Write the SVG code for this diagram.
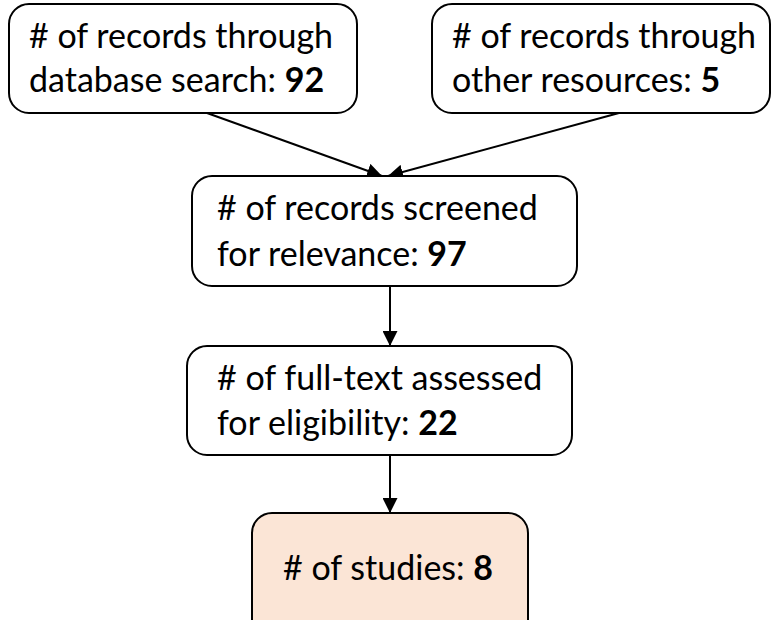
<svg xmlns="http://www.w3.org/2000/svg" width="773" height="620" viewBox="0 0 773 620">
  <style>
    .box { fill: #ffffff; stroke: #000000; stroke-width: 2; }
    .final { fill: #fbe5d6; }
    .t { font-family: "Lato", "Liberation Sans", sans-serif; font-size: 34px; fill: #000000; }
    .b { font-weight: bold; }
    .edge { stroke: #000000; stroke-width: 2; fill: none; marker-end: url(#arrow); }
  </style>
  <defs>
    <marker id="arrow" viewBox="0 0 10 10" refX="10" refY="5" markerWidth="7.5" markerHeight="7.5" markerUnits="strokeWidth" orient="auto">
      <path d="M0,0 L10,5 L0,10 Z" fill="#000000"/>
    </marker>
  </defs>
  <rect width="773" height="620" fill="#ffffff"/>
  <g id="connectors">
    <line class="edge" x1="207" y1="113" x2="382" y2="176"/>
    <line class="edge" x1="619" y1="113" x2="388" y2="176"/>
    <line class="edge" x1="390" y1="286" x2="390" y2="346"/>
    <line class="edge" x1="390" y1="455" x2="390" y2="513"/>
  </g>
  <g id="node1">
    <rect class="box" x="9" y="4" width="348" height="109" rx="20" ry="20"/>
    <text class="t">
      <tspan x="29" y="48"># of records through</tspan>
      <tspan x="29" y="92">database search: <tspan class="b">92</tspan></tspan>
    </text>
  </g>
  <g id="node2">
    <rect class="box" x="432" y="4" width="338" height="109" rx="20" ry="20"/>
    <text class="t">
      <tspan x="452" y="48"># of records through</tspan>
      <tspan x="452" y="92">other resources: <tspan class="b">5</tspan></tspan>
    </text>
  </g>
  <g id="node3">
    <rect class="box" x="192" y="176" width="385" height="110" rx="20" ry="20"/>
    <text class="t">
      <tspan x="217" y="220"># of records screened</tspan>
      <tspan x="217" y="266">for relevance: <tspan class="b">97</tspan></tspan>
    </text>
  </g>
  <g id="node4">
    <rect class="box" x="187" y="346" width="385" height="109" rx="20" ry="20"/>
    <text class="t">
      <tspan x="217" y="390"># of full-text assessed</tspan>
      <tspan x="217" y="435">for eligibility: <tspan class="b">22</tspan></tspan>
    </text>
  </g>
  <g id="node5">
    <rect class="box final" x="252" y="513" width="276" height="130" rx="20" ry="20"/>
    <text class="t">
      <tspan x="283" y="580"># of studies: <tspan class="b">8</tspan></tspan>
    </text>
  </g>
</svg>
